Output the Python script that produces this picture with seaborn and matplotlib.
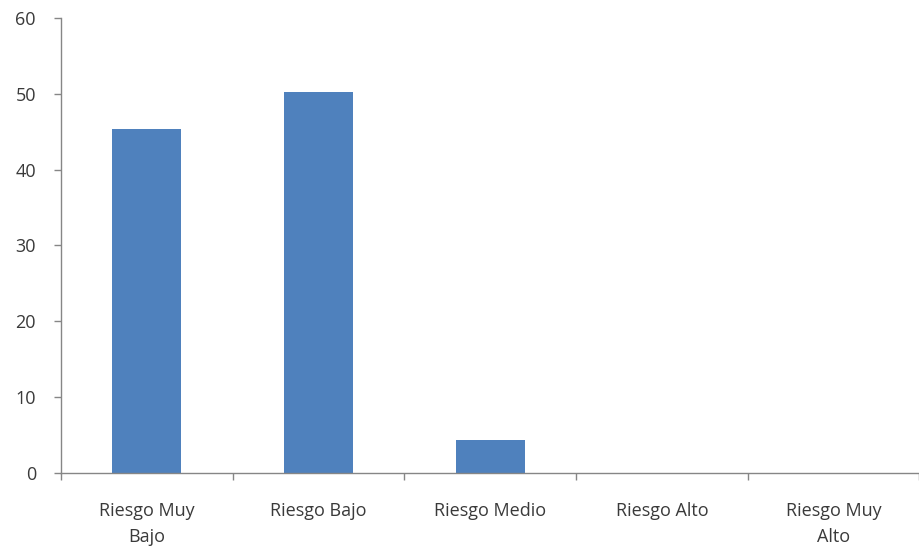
import matplotlib
matplotlib.use("Agg")
import matplotlib.pyplot as plt
import seaborn as sns
import pandas as pd
import numpy as np

categories = ["Riesgo Muy\nBajo", "Riesgo Bajo", "Riesgo Medio", "Riesgo Alto", "Riesgo Muy\nAlto"]
values = [45.4, 50.3, 4.4, 0, 0]
yticks = [0, 10, 20, 30, 40, 50, 60]

sns.set_theme(style="white")
plt.rcParams['font.family'] = ['Open Sans', 'DejaVu Sans']

df = pd.DataFrame({"cat": categories, "val": values})
fig = plt.figure(figsize=(9.2, 5.55), dpi=100)
ax = fig.add_axes([0.0663, 0.1477, 0.933, 0.82])
sns.barplot(data=df, x="cat", y="val", color="#4F81BD", width=0.4, saturation=1,
            linewidth=0, ax=ax)

axis_col = "#868686"
txt_col = "#3a3a3a"
ax.set_xlim(-0.5, 4.5)
ax.set_ylim(0, 60)
ax.set_yticks(yticks)
ax.set_xlabel("")
ax.set_ylabel("")
for s in ["top", "right"]:
    ax.spines[s].set_visible(False)
for s in ["left", "bottom"]:
    ax.spines[s].set_color(axis_col)
    ax.spines[s].set_linewidth(1.0)
ax.set_xticks(np.arange(-0.5, 5, 1.0), minor=True)
ax.tick_params(axis="x", which="major", length=0, pad=21, labelsize=13, labelcolor=txt_col)
ax.tick_params(axis="x", which="minor", length=5, color=axis_col, width=1, direction="out", bottom=True)
ax.tick_params(axis="y", which="major", length=5, color=axis_col, width=1, direction="out", left=True, pad=13, labelsize=13, labelcolor=txt_col)
for lbl in ax.get_xticklabels():
    lbl.set_multialignment("center")
    lbl.set_linespacing(1.55)
ax.grid(False)

fig.savefig("out.png", dpi=100)
